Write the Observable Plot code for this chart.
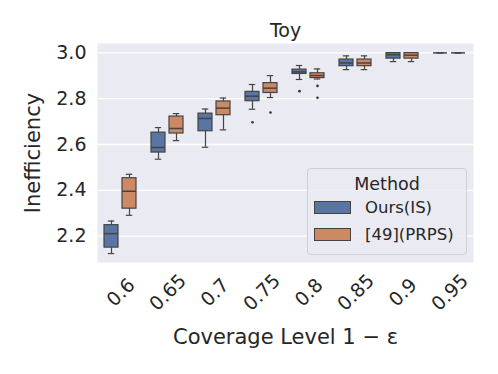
<!DOCTYPE html>
<html>
<head>
<meta charset="utf-8">
<script src="https://cdn.jsdelivr.net/npm/d3@7"></script>
<script src="https://cdn.jsdelivr.net/npm/@observablehq/plot@0.6"></script>
<style>
  html, body { margin: 0; padding: 0; background: #fff; }
  #wrap { position: relative; width: 498px; height: 374px; font-family: "DejaVu Sans", sans-serif; color: #262626; }
  #legend { position: absolute; left: 307px; top: 168px; width: 158px; height: 85px;
    border: 1px solid #cfcfd6; border-radius: 4px; background: rgba(234,234,242,0.8); box-sizing: content-box; }
  #legend .title { text-align: center; font-size: 17.5px; margin-top: 5px; line-height: 20px; }
  #legend .row { display: flex; align-items: center; height: 27px; font-size: 16.5px; }
  #legend .sw { width: 35px; height: 11px; margin-left: 6px; margin-right: 14px; border: 1px solid #444; }
</style>
</head>
<body>
<div id="wrap"></div>
<script>
const coverage = ["0.6", "0.65", "0.7", "0.75", "0.8", "0.85", "0.9", "0.95"];
const methods = ["Ours(IS)", "[49](PRPS)"];
const colors = ["#5875a3", "#cc8963"];
const yTicks = [2.2, 2.4, 2.6, 2.8, 3.0];

// Box statistics, per coverage level
const oursLow  = [2.124, 2.536, 2.588, 2.754, 2.884, 2.927, 2.962, 3.0];
const oursQ1   = [2.150, 2.565, 2.658, 2.789, 2.908, 2.942, 2.975, 3.0];
const oursMed  = [2.211, 2.587, 2.714, 2.811, 2.917, 2.956, 2.992, 3.0];
const oursQ3   = [2.248, 2.652, 2.735, 2.830, 2.927, 2.971, 2.999, 3.0];
const oursHigh = [2.266, 2.674, 2.755, 2.862, 2.945, 2.987, 3.0, 3.0];

const prpsLow  = [2.291, 2.617, 2.664, 2.805, 2.886, 2.927, 2.962, 3.0];
const prpsQ1   = [2.320, 2.648, 2.728, 2.825, 2.890, 2.942, 2.975, 3.0];
const prpsMed  = [2.396, 2.670, 2.759, 2.846, 2.901, 2.956, 2.990, 3.0];
const prpsQ3   = [2.453, 2.722, 2.788, 2.868, 2.911, 2.971, 2.999, 3.0];
const prpsHigh = [2.470, 2.735, 2.803, 2.901, 2.930, 2.987, 3.0, 3.0];

const outlierCoverage = ["0.75", "0.8", "0.75", "0.8", "0.8"];
const outlierMethod   = ["Ours(IS)", "Ours(IS)", "[49](PRPS)", "[49](PRPS)", "[49](PRPS)"];
const outlierValue    = [2.697, 2.833, 2.740, 2.856, 2.804];

const rows = [];
coverage.forEach((c, i) => {
  rows.push({coverage: c, method: methods[0], lo: oursLow[i], q1: oursQ1[i], med: oursMed[i], q3: oursQ3[i], hi: oursHigh[i]});
  rows.push({coverage: c, method: methods[1], lo: prpsLow[i], q1: prpsQ1[i], med: prpsMed[i], q3: prpsQ3[i], hi: prpsHigh[i]});
});
const outliers = outlierValue.map((v, i) => ({coverage: outlierCoverage[i], method: outlierMethod[i], value: v}));

const edge = "#444444";
const chart = Plot.plot({
  width: 498,
  height: 374,
  marginLeft: 93,
  marginRight: 22,
  marginTop: 43,
  marginBottom: 112,
  style: {fontFamily: "DejaVu Sans, sans-serif", fontSize: "19px", color: "#262626", background: "transparent"},
  fx: {domain: coverage, padding: 0, axis: null},
  x: {domain: methods, paddingInner: 0.22, paddingOuter: 0.357, axis: null},
  y: {domain: [2.085, 3.041], ticks: yTicks, tickFormat: d3.format(".1f"), tickSize: 0, tickPadding: 11, label: null},
  color: {domain: methods, range: colors},
  marks: [
    Plot.frame({fill: "#eaeaf2", stroke: null, facet: "super"}),
    Plot.ruleY(yTicks, {stroke: "white", strokeWidth: 1.3}),
    Plot.ruleX(rows, {fx: "coverage", x: "method", y1: "lo", y2: "hi", stroke: edge, strokeWidth: 1.2}),
    Plot.tickY(rows, {fx: "coverage", x: "method", y: "lo", stroke: edge, strokeWidth: 1.2, insetLeft: 3.8, insetRight: 3.8}),
    Plot.tickY(rows, {fx: "coverage", x: "method", y: "hi", stroke: edge, strokeWidth: 1.2, insetLeft: 3.8, insetRight: 3.8}),
    Plot.barY(rows, {fx: "coverage", x: "method", y1: "q1", y2: "q3", fill: "method", stroke: edge, strokeWidth: 1.2}),
    Plot.tickY(rows, {fx: "coverage", x: "method", y: "med", stroke: edge, strokeWidth: 1.5}),
    Plot.dot(outliers, {fx: "coverage", x: "method", y: "value", r: 1.3, fill: "#333", stroke: null}),
    Plot.text(coverage, {fx: d => d, text: d => d, frameAnchor: "bottom", dy: 30, rotate: -45, textAnchor: "middle", lineAnchor: "middle", fontSize: 19, fill: "#262626"}),
    Plot.text(["Toy"], {text: d => d, frameAnchor: "top", dy: -13, lineAnchor: "middle", fontSize: 19, fill: "#262626", facet: "super"}),
    Plot.text(["Inefficiency"], {text: d => d, frameAnchor: "left", dx: -64, rotate: -90, lineAnchor: "middle", textAnchor: "middle", fontSize: 21, fill: "#262626", facet: "super"}),
    Plot.text(["Coverage Level 1 − ε"], {text: d => d, frameAnchor: "bottom", dy: 75, lineAnchor: "middle", fontSize: 21, fill: "#262626", facet: "super"})
  ]
});

const wrap = document.getElementById("wrap");
wrap.appendChild(chart);

const legend = document.createElement("div");
legend.id = "legend";
const title = document.createElement("div");
title.className = "title";
title.textContent = "Method";
legend.appendChild(title);
methods.forEach((m, i) => {
  const row = document.createElement("div");
  row.className = "row";
  const sw = document.createElement("div");
  sw.className = "sw";
  sw.style.background = colors[i];
  const t = document.createElement("span");
  t.textContent = m;
  row.appendChild(sw);
  row.appendChild(t);
  legend.appendChild(row);
});
wrap.appendChild(legend);
</script>
</body>
</html>
